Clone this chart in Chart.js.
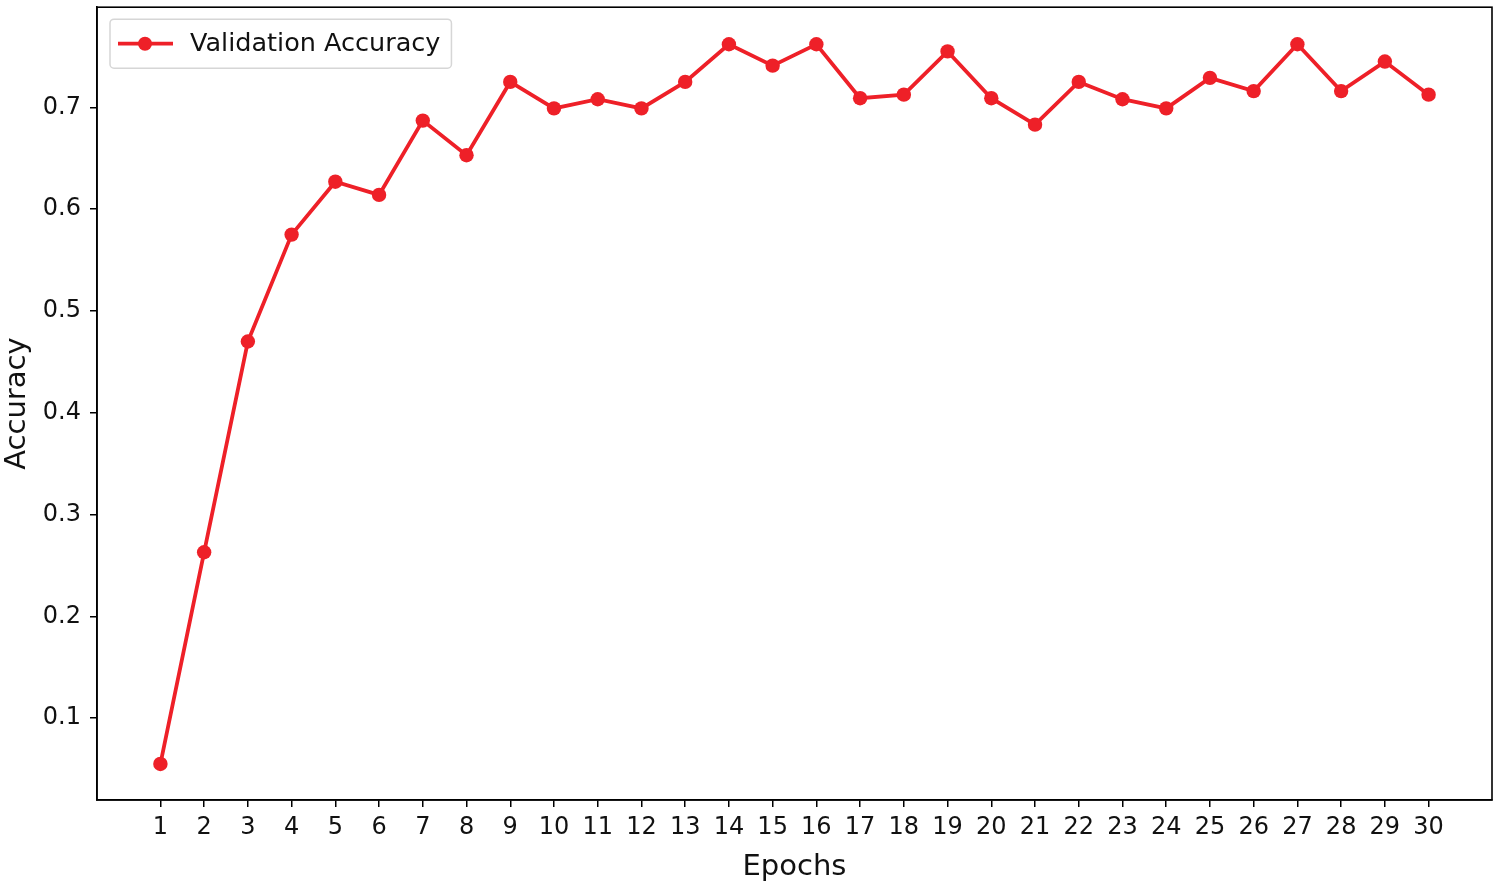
<!DOCTYPE html>
<html>
<head>
<meta charset="utf-8">
<script src="https://cdn.jsdelivr.net/npm/chart.js@4.4.0/dist/chart.umd.min.js"></script>
<style>
html,body{margin:0;padding:0;background:#fff;}
#wrap{width:1500px;height:885px;position:relative;}
</style>
</head>
<body>
<div id="wrap"><canvas id="c" width="1500" height="885"></canvas></div>
<script>
const epochs = [1,2,3,4,5,6,7,8,9,10,11,12,13,14,15,16,17,18,19,20,21,22,23,24,25,26,27,28,29,30];
const valAccuracy = [0.055,0.263,0.470,0.575,0.627,0.614,0.687,0.653,0.725,0.699,0.708,0.699,0.725,0.762,0.741,0.762,0.709,0.7125,0.755,0.709,0.683,0.725,0.708,0.699,0.729,0.716,0.762,0.716,0.745,0.7125];
const yTicks = [0.1,0.2,0.3,0.4,0.5,0.6,0.7];
const seriesLabel = 'Validation Accuracy';
const xTitle = 'Epochs';
const yTitle = 'Accuracy';

const RED = '#ee2028';
const FONT = "'DejaVu Sans', sans-serif";

const framePlugin = {
  id: 'frame',
  afterDraw(chart) {
    const {ctx, chartArea: a} = chart;
    ctx.save();
    ctx.strokeStyle = '#000';
    ctx.lineWidth = 1.6;
    ctx.strokeRect(a.left, a.top, a.right - a.left, a.bottom - a.top);
    // legend
    const ds = chart.data.datasets[0];
    ctx.font = "25.5px " + FONT;
    const tw = ctx.measureText(ds.label).width;
    const bx = a.left + 13, by = a.top + 12;
    const bw = 80 + tw + 11, bh = 49;
    ctx.beginPath();
    if (ctx.roundRect) ctx.roundRect(bx, by, bw, bh, 4); else ctx.rect(bx, by, bw, bh);
    ctx.fillStyle = 'rgba(255,255,255,0.8)';
    ctx.fill();
    ctx.strokeStyle = '#d6d6d6';
    ctx.lineWidth = 1.5;
    ctx.stroke();
    const cy = by + bh / 2;
    ctx.strokeStyle = RED;
    ctx.lineWidth = 3.8;
    ctx.beginPath();
    ctx.moveTo(bx + 8, cy);
    ctx.lineTo(bx + 63, cy);
    ctx.stroke();
    ctx.fillStyle = RED;
    ctx.beginPath();
    ctx.arc(bx + 35, cy, 7, 0, Math.PI * 2);
    ctx.fill();
    ctx.fillStyle = '#111';
    ctx.textBaseline = 'middle';
    ctx.textAlign = 'left';
    ctx.fillText(ds.label, bx + 80, cy + 1);
    ctx.restore();
  }
};

new Chart(document.getElementById('c'), {
  type: 'line',
  data: {
    datasets: [{
      label: seriesLabel,
      data: epochs.map((e, i) => ({x: e, y: valAccuracy[i]})),
      borderColor: RED,
      backgroundColor: RED,
      borderWidth: 3.8,
      pointRadius: 7.2,
      pointHoverRadius: 7.2,
      pointBackgroundColor: RED,
      pointBorderWidth: 0,
      tension: 0,
      fill: false
    }]
  },
  options: {
    responsive: false,
    animation: false,
    devicePixelRatio: 1,
    layout: {padding: {top: 3, right: 8, left: 0, bottom: 0}},
    plugins: {legend: {display: false}, tooltip: {enabled: false}},
    scales: {
      x: {
        type: 'linear',
        min: -0.45,
        max: 31.45,
        afterBuildTicks(s) { s.ticks = epochs.map(v => ({value: v})); },
        afterFit(s) { s.height = 85; s.paddingLeft = 0; s.paddingRight = 0; },
        grid: {display: true, drawOnChartArea: false, drawTicks: true, tickLength: 7, color: '#000', lineWidth: 1.5},
        border: {display: true, color: '#000', width: 1.6},
        ticks: {color: '#111', font: {family: FONT, size: 24}, padding: 6, maxRotation: 0, autoSkip: false,
          callback: v => String(v)},
        title: {display: true, text: xTitle, color: '#111', font: {family: FONT, size: 29}, padding: {top: 0, bottom: 0}}
      },
      y: {
        type: 'linear',
        min: 0.0196,
        max: 0.7984,
        afterBuildTicks(s) { s.ticks = yTicks.map(v => ({value: v})); },
        afterFit(s) { s.width = 97; s.paddingTop = 0; s.paddingBottom = 0; },
        grid: {display: true, drawOnChartArea: false, drawTicks: true, tickLength: 7, color: '#000', lineWidth: 1.5},
        border: {display: true, color: '#000', width: 1.6},
        ticks: {color: '#111', font: {family: FONT, size: 24}, padding: 9,
          callback: v => v.toFixed(1)},
        title: {display: true, text: yTitle, color: '#111', font: {family: FONT, size: 29}, padding: {top: 0, bottom: 0}}
      }
    }
  },
  plugins: [framePlugin]
});
</script>
</body>
</html>
